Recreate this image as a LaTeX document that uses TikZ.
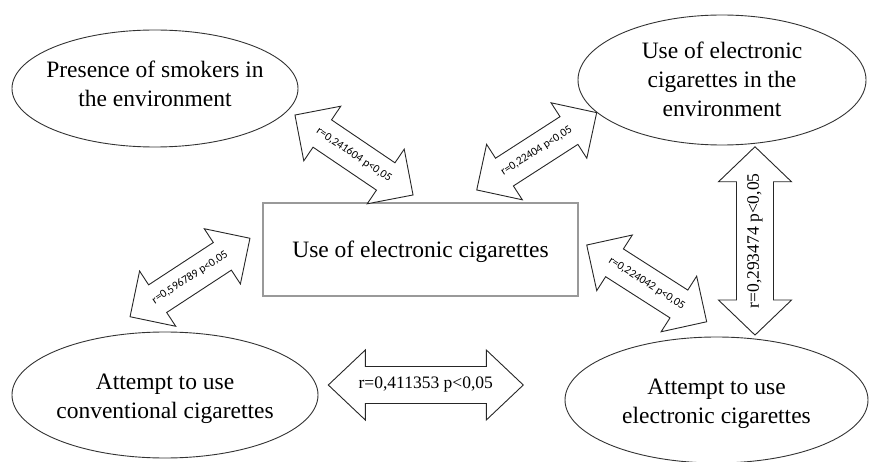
\documentclass[tikz,border=0pt]{standalone}
\usepackage{fontspec}
\setmainfont{Liberation Serif}
\newfontfamily\calfont{Carlito}
\usetikzlibrary{shapes.geometric}
\tikzset{
 ell/.style={ellipse, draw=black!80, line width=0.9pt, inner sep=0pt},
 etext/.style={align=center, inner sep=0pt, font=\fontsize{23.5}{29}\selectfont},
 box/.style={rectangle, draw=black!40, line width=1.3pt, inner sep=0pt},
 barrowline/.style={draw=black!85, line width=0.9pt, fill=white, line join=miter},
 smalllab/.style={font=\calfont\fontsize{11.5}{13}\selectfont, inner sep=0pt},
 biglab/.style={font=\fontsize{17.5}{20}\selectfont, inner sep=0pt},
}
% #1 name, #2 centre, #3 angle, #4 length, #5 head width, #6 shaft width, #7 head length, #8 label style, #9 text
\newcommand\blockarrow[9]{%
\begin{scope}[shift={#2}, rotate=#3]
\draw[barrowline] ({-#4/2},0) -- ({-#4/2+#7},{#5/2}) -- ({-#4/2+#7},{#6/2}) -- ({#4/2-#7},{#6/2}) -- ({#4/2-#7},{#5/2}) -- ({#4/2},0) -- ({#4/2-#7},{-#5/2}) -- ({#4/2-#7},{-#6/2}) -- ({-#4/2+#7},{-#6/2}) -- ({-#4/2+#7},{-#5/2}) -- cycle;
\node[#8, transform shape] (#1) at (0,0) {#9};
\end{scope}}
\begin{document}
\begin{tikzpicture}[x=1pt,y=-1pt]
\useasboundingbox (0,0) rectangle (870,462);
\node[ell, minimum width=286pt, minimum height=117pt] (smokers) at (155,88.5) {};
\node[etext] (smokers-t) at (155,83.5) {Presence of smokers in\\the environment};
\node[ell, minimum width=288pt, minimum height=130pt] (ecigenv) at (722,80) {};
\node[etext] (ecigenv-t) at (722,79) {Use of electronic\\cigarettes in the\\environment};
\node[ell, minimum width=306pt, minimum height=126pt] (conv) at (165,395) {};
\node[etext] (conv-t) at (165,399) {Attempt to use\\conventional cigarettes};
\node[ell, minimum width=303pt, minimum height=126pt] (ecigatt) at (716.5,400) {};
\node[etext] (ecigatt-t) at (716.5,404) {Attempt to use\\electronic cigarettes};
\node[box, minimum width=315pt, minimum height=93pt] (use) at (420.5,249.5) {};
\node[etext] (use-t) at (420.5,252) {Use of electronic cigarettes};

\blockarrow{a1}{(354,155)}{-34.1}{142.6}{66}{33}{33}{smalllab}{r=0,241604 p<0,05}
\blockarrow{a2}{(536.7,151.3)}{32.8}{142.7}{66}{33}{33}{smalllab}{r=0,22404 p<0,05}
\blockarrow{a3}{(190,277.5)}{33.2}{143.3}{66}{33}{33}{smalllab}{r=0,596789 p<0,05}
\blockarrow{a4}{(646.7,283.4)}{-32.6}{142.4}{66}{33}{33}{smalllab}{r=0,224042 p<0,05}
\blockarrow{a5}{(755,240.9)}{90}{188.3}{73}{37}{35}{biglab}{r=0,293474 p<0,05}
\blockarrow{a6}{(425.8,385)}{0}{195}{70}{37}{37}{biglab}{r=0,411353 p<0,05}
\end{tikzpicture}
\end{document}
